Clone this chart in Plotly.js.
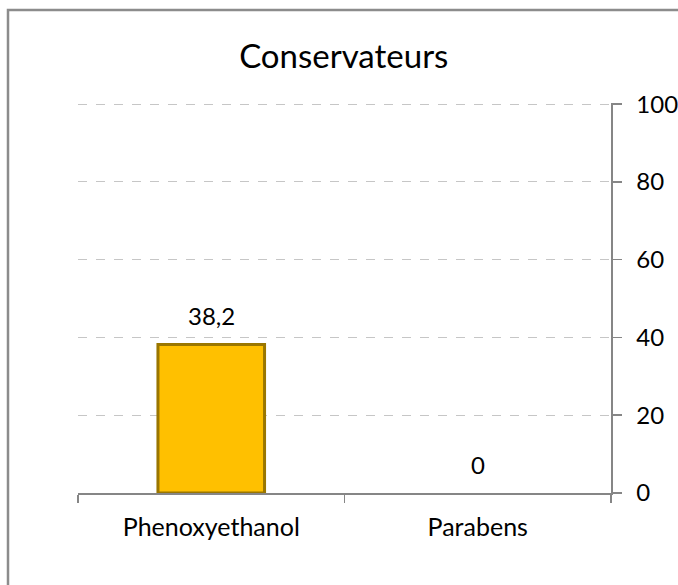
<!DOCTYPE html>
<html>
<head>
<meta charset="utf-8">
<script src="https://cdn.plot.ly/plotly-3.0.1.min.js"></script>
<style>html,body{margin:0;padding:0;background:#fff;}#chart{width:678px;height:585px;}</style>
</head>
<body>
<div id="chart"></div>
<script>
const categories = ["Phenoxyethanol", "Parabens"];
const values = [38.2, 0];
const valueLabels = ["38,2", "0"];
const yTicks = [0, 20, 40, 60, 80, 100];
const chartTitle = "Conservateurs";

const font = "Lato, 'Open Sans', sans-serif";

const trace = {
  type: "bar",
  x: categories,
  y: values,
  cliponaxis: false,
  width: 0.4,
  marker: {color: "#FFC000", line: {color: "#9a7600", width: values.map(v => v > 0 ? 3 : 0)}},
  hoverinfo: "skip"
};

const annotations = categories.map((c, i) => ({
  x: c, y: values[i], xref: "x", yref: "y",
  text: valueLabels[i], showarrow: false,
  yanchor: "bottom", yshift: 12,
  font: {family: font, size: 24, color: "#000"}
}));

const layout = {
  width: 678, height: 585,
  margin: {l: 78, r: 67, t: 103, b: 92},
  paper_bgcolor: "#fff", plot_bgcolor: "#fff",
  showlegend: false,
  title: {text: chartTitle, font: {family: font, size: 33, color: "#000"}, x: 0.507, xanchor: "center", y: 0.903, yanchor: "middle"},
  xaxis: {
    type: "category",
    showline: true, linecolor: "#868686", linewidth: 1.5,
    ticks: "outside", ticklen: 8, tickcolor: "#868686", tickwidth: 1.5,
    tickson: "boundaries",
    showgrid: false,
    tickfont: {family: font, size: 25, color: "#000"},
    ticklabelstandoff: 11,
    fixedrange: true
  },
  yaxis: {
    side: "right",
    range: [0, 100.3],
    tickvals: yTicks,
    ticktext: yTicks.map(String),
    showline: true, linecolor: "#868686", linewidth: 1.5,
    ticks: "outside", ticklen: 9, tickcolor: "#868686", tickwidth: 1.5,
    showgrid: true, gridcolor: "#c6c6c6", griddash: "dash", gridwidth: 1,
    zeroline: false,
    tickfont: {family: font, size: 24, color: "#000"},
    ticklabelstandoff: 10,
    fixedrange: true
  },
  bargap: 0.6,
  annotations: annotations,
  shapes: [{
    type: "rect", xref: "paper", yref: "paper",
    x0: (8 - 78) / 533, x1: (700 - 78) / 533,
    y0: (493 - 620) / 390, y1: (493 - 10) / 390,
    line: {color: "#8c8c8c", width: 2.5}, fillcolor: "rgba(0,0,0,0)", layer: "below"
  }]
};

Plotly.newPlot("chart", [trace], layout, {staticPlot: true, displayModeBar: false});
</script>
</body>
</html>
